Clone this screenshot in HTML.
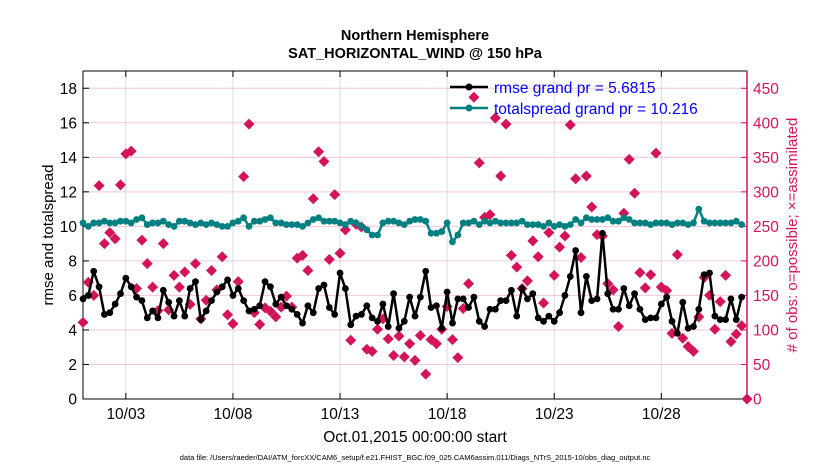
<!DOCTYPE html>
<html><head><meta charset="utf-8"><style>
body{margin:0;background:#fff;}
svg{display:block;font-family:"Liberation Sans",Arial,sans-serif;}
</style></head><body>
<svg id="chart" width="830" height="470" viewBox="0 0 830 470">
<text x="415" y="40" text-anchor="middle" font-size="14.5" font-weight="bold">Northern Hemisphere</text>
<text x="415" y="58" text-anchor="middle" font-size="14.5" font-weight="bold">SAT_HORIZONTAL_WIND @ 150 hPa</text>
<g id="grid"></g><g id="axes"></g><g id="marks"></g>
<text transform="translate(53,235) rotate(-90)" text-anchor="middle" font-size="15">rmse and totalspread</text>
<text transform="translate(797,235) rotate(-90)" text-anchor="middle" font-size="15" fill="#d4145a"># of obs: o=possible; ×=assimilated</text>
<text x="415" y="442" text-anchor="middle" font-size="15.5">Oct.01,2015 00:00:00 start</text>
<text x="415" y="460" text-anchor="middle" font-size="7.5">data file: /Users/raeder/DAI/ATM_forcXX/CAM6_setup/f.e21.FHIST_BGC.f09_025.CAM6assim.011/Diags_NTrS_2015-10/obs_diag_output.nc</text>
<g>
<line x1="450" y1="87" x2="488" y2="87" stroke="#000" stroke-width="2.5"/><circle cx="469" cy="87" r="3.5" fill="#000"/>
<text x="494" y="93" font-size="15.5" fill="#0000ff">rmse grand pr = 5.6815</text>
<line x1="450" y1="108" x2="488" y2="108" stroke="#008080" stroke-width="2.5"/><circle cx="469" cy="108" r="3.5" fill="#008080"/>
<text x="494" y="114" font-size="15.5" fill="#0000ff">totalspread grand pr = 10.216</text>
</g>
</svg>
<script>
const rmse=[5.8,6.0,7.4,6.5,4.9,5.0,5.5,6.1,7.0,6.5,5.9,5.7,4.7,5.1,4.7,6.3,5.6,4.8,5.7,4.8,6.4,6.8,4.6,5.1,5.7,6.2,6.5,6.9,6.0,6.4,5.7,5.1,5.2,5.4,6.8,6.5,5.5,5.9,5.4,5.2,4.9,4.4,5.4,5.0,6.4,6.6,5.3,4.9,7.3,6.4,4.3,4.8,4.9,5.4,4.7,4.5,5.5,4.2,6.1,4.1,4.5,5.9,4.8,5.9,7.4,5.3,5.4,4.1,6.2,4.4,5.8,5.8,5.3,5.9,4.5,4.2,5.2,5.2,5.7,5.7,6.3,4.8,6.4,5.8,6.1,4.7,4.5,4.8,4.5,5.0,6.0,7.1,8.6,5.0,7.1,5.7,5.8,9.6,6.1,5.2,5.2,6.4,5.4,6.1,5.2,4.6,4.7,4.7,5.5,5.9,4.5,3.8,5.6,4.1,4.2,5.2,7.2,7.3,4.8,4.6,4.6,5.8,4.6,5.9];
const spread=[10.2,10.0,10.2,10.2,10.3,10.2,10.2,10.3,10.3,10.2,10.4,10.5,10.1,10.2,10.2,10.3,10.1,10.0,10.3,10.3,10.2,10.1,10.2,10.1,10.2,10.1,10.0,10.0,10.2,10.3,10.5,10.0,10.3,10.3,10.4,10.5,10.2,10.2,10.1,10.1,10.1,10.0,10.2,10.4,10.5,10.3,10.3,10.3,10.2,10.1,10.3,10.2,10.0,9.8,9.5,9.5,10.2,10.3,10.3,10.2,10.1,10.3,10.4,10.4,10.3,9.6,9.6,9.7,10.2,9.1,9.5,10.2,10.2,10.3,10.1,10.3,10.2,10.3,10.2,10.2,10.2,10.2,10.3,10.1,10.1,10.1,10.0,10.2,10.0,10.1,10.0,10.1,10.4,10.2,10.5,10.4,10.4,10.4,10.5,10.3,10.3,10.5,10.4,10.2,10.2,10.2,10.1,10.2,10.2,10.2,10.1,10.2,10.2,10.1,10.2,11.0,10.3,10.2,10.2,10.2,10.2,10.2,10.3,10.1];
const obs=[111,169,150,309,225,241,232,310,355,359,160,230,196,162,128,225,129,179,162,184,137,196,116,143,186,158,206,122,109,170,322,398,125,108,132,127,119,133,149,133,204,208,186,290,358,344,202,296,211,245,85,253,249,72,69,101,116,87,63,91,61,80,56,92,36,86,80,101,134,86,60,131,167,437,342,263,267,407,323,398,208,191,160,171,229,206,139,241,179,220,236,397,319,205,323,278,238,236,167,158,105,269,347,298,183,161,180,356,162,157,95,209,88,76,69,119,176,150,101,141,179,83,94,106,0];
const leftTicks=[0,2,4,6,8,10,12,14,16,18];
const rightTicks=[0,50,100,150,200,250,300,350,400,450];
const dateTicks=[2,7,12,17,22,27];
const dateLabels=["10/03","10/08","10/13","10/18","10/23","10/28"];
const X0=83,X1=747,Y0=399,Y1=71,DAYS=31,YMAX=19,RMAX=475;
const sx=d=>X0+(X1-X0)*d/DAYS;
const sy=v=>Y0-(Y0-Y1)*v/YMAX;
const sr=v=>Y0-(Y0-Y1)*v/RMAX;
const NS="http://www.w3.org/2000/svg";
function mk(tag,attrs,parent){const e=document.createElementNS(NS,tag);for(const k in attrs)e.setAttribute(k,attrs[k]);parent.appendChild(e);return e;}
const grid=document.getElementById('grid'),axes=document.getElementById('axes'),marks=document.getElementById('marks');
dateTicks.forEach((d,i)=>{
 const g=mk('line',{x1:sx(d),x2:sx(d),y1:Y1,y2:Y0,stroke:'#dcdcdc','stroke-width':1},grid);
 
 
 mk('line',{x1:sx(d),x2:sx(d),y1:Y0,y2:Y0-6,stroke:'#000'},axes);
 mk('line',{x1:sx(d),x2:sx(d),y1:Y1,y2:Y1+6,stroke:'#000'},axes);
 const t=mk('text',{x:sx(d),y:419,'text-anchor':'middle','font-size':15.5},axes);t.textContent=dateLabels[i];
 
 
});
rightTicks.forEach(v=>{
 const y=sr(v);
 if(v>0){const g=mk('line',{x1:X0,x2:X1,y1:y,y2:y,stroke:'#f3c6d6','stroke-width':1},grid);
 
 }
 mk('line',{x1:X1,x2:X1-6,y1:y,y2:y,stroke:'#d4145a'},axes);
 const t=mk('text',{x:X1+6,y:y+5.5,'font-size':15.5,fill:'#d4145a'},axes);t.textContent=v;
 
 
});
leftTicks.forEach(v=>{
 const y=sy(v);
 mk('line',{x1:X0,x2:X0+6,y1:y,y2:y,stroke:'#000'},axes);
 const t=mk('text',{x:X0-6,y:y+5.5,'font-size':15.5,'text-anchor':'end'},axes);t.textContent=v;
 
 
});
mk('rect',{x:X0,y:Y1,width:X1-X0,height:Y0-Y1,fill:'none',stroke:'#000','stroke-width':1},axes);
mk('line',{x1:X1,x2:X1,y1:Y1,y2:Y0,stroke:'#d4145a','stroke-width':1.5},axes);
obs.forEach((v,i)=>{
 const x=sx(i/4),y=sr(v);
 const p=mk('polygon',{points:`${x},${y-5.5} ${x+5.5},${y} ${x},${y+5.5} ${x-5.5},${y}`,fill:'#d4145a'},marks);
 
 
});
function series(arr,color,name){
 const pts=arr.map((v,i)=>sx(i/4)+','+sy(v)).join(' ');
 const l=mk('polyline',{points:pts,fill:'none',stroke:color,'stroke-width':2.5,'stroke-linejoin':'round'},marks);
 
 
 arr.forEach((v,i)=>{
  const c=mk('circle',{cx:sx(i/4),cy:sy(v),r:3.4,fill:color},marks);
  
  
 });
}
series(spread,'#008080','totalspread');
series(rmse,'#000000','rmse');
</script>
</body></html>
